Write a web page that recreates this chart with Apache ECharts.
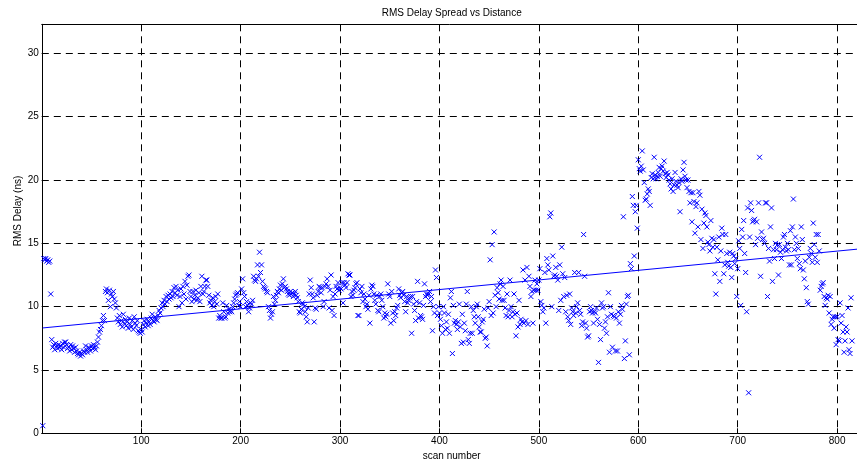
<!DOCTYPE html>
<html><head><meta charset="utf-8">
<script src="https://cdn.jsdelivr.net/npm/echarts@6/dist/echarts.min.js"></script>
<style>html,body{margin:0;padding:0;background:#fff}#c{width:857px;height:464px}</style>
</head><body><div id="c"></div>
<script>
// RMS delay (ns) per scan, scans 1..815
const rms001_100 = [
0.6,13.8,13.7,13.8,13.6,13.7,13.5,13.6,11.0,7.4,
6.8,7.0,6.6,7.1,6.9,6.7,7.0,6.8,6.9,6.6,
7.1,6.8,7.2,7.2,7.0,6.7,6.8,6.5,7.0,6.6,
6.9,6.7,6.4,6.8,6.5,6.3,6.2,6.4,6.1,6.3,
6.2,6.5,6.4,6.9,6.6,6.4,6.8,6.7,6.5,6.9,
6.7,7.0,6.8,6.6,6.9,7.2,7.6,8.0,8.2,8.5,
8.9,9.3,8.9,11.2,11.4,11.1,10.5,11.3,10.0,11.0,
10.8,11.2,10.6,10.3,9.9,9.1,8.8,9.3,8.6,8.9,
8.4,9.4,8.7,9.0,8.5,8.8,8.3,9.1,8.6,8.4,
8.9,8.2,9.2,8.7,8.5,8.9,8.1,8.0,7.9,8.2];
const rms101_200 = [
8.0,8.6,8.9,8.4,8.7,9.0,8.5,8.8,8.6,9.1,
9.4,8.9,8.8,9.2,9.0,8.9,9.3,9.7,9.5,9.9,
10.3,10.0,10.5,10.2,10.8,10.4,10.9,10.6,11.0,10.7,
11.2,10.8,11.5,11.1,11.6,10.9,11.3,10.0,10.8,11.4,
10.3,11.6,11.0,12.0,10.6,11.7,12.4,12.5,11.2,10.8,
10.4,11.2,10.6,10.9,11.3,10.5,10.7,11.1,10.4,11.6,
12.4,11.0,11.2,11.6,12.1,12.1,11.6,10.9,10.3,10.5,
10.1,10.7,10.0,10.4,10.8,10.2,11.0,9.1,9.3,9.1,
9.1,10.3,9.6,9.1,9.2,10.1,9.5,9.8,9.6,9.7,
9.6,10.0,10.3,10.6,10.9,11.0,11.1,10.1,10.4,10.0];
const rms201_300 = [
11.4,12.2,11.1,10.8,10.0,10.4,10.1,9.6,9.9,10.3,
10.2,10.5,12.4,12.1,12.0,12.2,13.3,12.4,14.3,12.7,
13.3,12.0,11.6,11.5,11.4,11.2,11.1,10.0,9.7,9.1,
9.4,9.6,10.8,10.2,10.5,10.9,11.2,11.1,11.4,11.7,
11.3,11.8,12.2,11.5,11.6,11.4,11.2,11.0,10.9,11.2,
11.0,11.1,10.8,11.0,11.2,10.9,10.7,10.4,9.6,9.5,
9.8,10.3,10.2,10.0,9.6,9.2,8.8,9.9,11.0,12.1,
11.5,11.0,10.7,8.8,9.9,9.8,10.9,11.2,11.6,11.5,
11.1,11.5,10.0,10.4,11.6,11.8,12.2,11.6,9.9,11.3,
12.5,9.7,10.8,9.3,11.0,11.6,11.4,11.9,11.3,11.5];
const rms301_400 = [
11.4,11.9,10.3,11.9,11.7,11.5,11.9,12.6,12.5,12.5,
10.8,11.2,10.9,11.3,11.5,11.8,11.9,9.3,9.3,11.4,
11.1,11.6,10.4,11.0,10.6,10.0,10.2,9.8,10.9,8.7,
11.4,11.7,11.6,11.0,10.5,10.2,10.9,9.7,9.6,10.8,
11.0,10.5,10.0,9.1,9.5,9.2,9.4,11.8,11.0,10.8,
8.7,11.2,9.5,8.9,9.6,9.3,9.9,10.1,11.4,10.9,
10.7,11.1,11.2,10.9,10.4,9.6,10.8,10.3,10.5,10.7,
10.8,7.9,10.8,10.2,9.7,8.9,10.4,12.0,9.1,10.3,
9.3,9.2,9.0,10.1,11.8,10.8,11.0,10.9,11.0,11.2,
10.4,10.8,8.1,10.0,9.5,12.9,12.3,9.3,10.0,9.5];
const rms401_500 = [
9.0,8.5,7.9,10.0,9.5,8.2,8.8,8.3,9.4,7.9,
10.7,11.2,6.3,10.1,8.7,8.9,8.6,8.2,8.8,10.2,
8.4,7.1,9.4,7.2,8.7,8.1,10.2,11.2,7.4,7.1,
7.9,10.0,7.9,9.7,9.2,8.7,10.0,10.2,9.2,8.4,
8.0,8.0,8.8,9.0,9.8,7.5,7.6,6.9,9.9,10.4,
13.7,9.3,14.9,9.5,15.9,10.9,10.0,11.5,11.1,10.6,
11.8,12.1,10.5,11.6,10.5,9.9,9.3,11.0,9.2,9.7,
12.1,10.0,9.2,9.6,11.0,9.4,7.7,9.5,8.4,10.5,
8.6,9.0,8.8,12.9,8.7,12.1,8.9,13.1,8.6,12.4,
11.6,10.8,11.2,8.7,11.3,12.1,11.3,11.8,11.3,12.1];
const rms501_600 = [
13.0,10.4,10.1,9.6,9.9,12.7,8.7,13.8,13.3,12.9,
17.1,17.4,10.0,14.0,12.4,12.5,13.1,12.4,12.1,9.7,
13.3,10.5,14.7,12.6,10.8,12.3,9.6,10.9,9.2,8.9,
11.0,8.6,9.9,9.6,9.3,12.7,9.5,10.0,10.3,12.7,
9.7,9.4,8.5,8.8,15.7,12.4,8.7,8.3,7.6,7.7,
9.6,10.0,9.7,9.5,8.7,9.6,9.5,9.9,9.0,5.6,
8.6,7.4,10.3,9.9,10.0,8.3,8.8,7.9,9.2,11.1,
6.4,10.0,9.4,6.8,9.3,9.2,6.5,9.1,6.5,9.6,
8.7,9.4,10.1,9.8,17.1,5.9,7.3,10.2,10.8,10.9,
6.2,13.4,13.0,18.7,18.0,14.0,17.5,18.0,16.2,21.6];
const rms601_700 = [
20.9,20.7,21.1,22.3,20.8,19.8,18.4,18.5,18.9,19.3,
19.1,18.0,20.2,20.5,20.1,21.8,20.4,20.1,20.3,20.6,
21.0,20.3,20.9,21.1,20.7,21.5,20.5,20.2,20.6,20.4,
20.0,19.7,19.3,20.1,19.1,19.6,20.6,19.9,19.6,19.4,
19.8,17.5,20.1,19.9,20.8,21.4,20.3,20.0,19.4,20.0,
19.1,18.2,19.0,16.7,19.0,18.3,15.8,17.9,18.2,16.3,
19.1,18.8,15.3,17.7,14.6,16.6,17.4,17.2,16.3,15.1,
14.9,14.4,16.8,15.4,14.7,15.3,12.6,11.0,14.7,13.7,
15.5,12.0,14.4,16.2,15.7,12.6,13.3,15.7,14.2,13.5,
13.2,14.3,13.1,12.3,14.2,14.0,13.4,13.8,10.8,13.0];
const rms701_815 = [
15.2,14.6,10.1,16.1,15.5,16.8,14.2,12.7,9.6,17.8,
3.2,15.5,18.2,17.6,16.7,16.8,16.9,14.9,16.7,15.4,
18.2,21.8,12.4,15.9,15.3,15.4,15.0,18.2,18.2,10.8,
14.6,13.6,16.3,17.8,12.0,14.5,13.8,15.0,14.5,14.9,
12.5,14.9,14.3,13.8,14.5,15.5,15.7,14.7,14.4,15.0,
14.5,13.3,16.0,13.3,16.3,18.5,14.5,15.5,15.0,13.8,
14.6,13.4,13.0,16.3,15.3,12.9,12.2,13.6,11.5,10.4,
10.2,13.9,14.6,14.2,13.5,16.6,14.9,13.9,15.7,13.5,
15.7,14.4,11.3,11.6,11.8,11.9,10.8,10.1,10.7,10.6,
10.9,9.5,10.8,8.6,9.0,9.2,8.3,9.2,7.0,9.2,
7.4,7.3,10.3,8.7,9.3,8.0,6.4,7.3,8.4,8.0,
9.9,6.6,6.3,10.7,7.3];
const firstScan = 1;
// least-squares fit line end points
const fitScans = [1, 820];
const fitDelay = [8.32, 14.54];
const xMin = 0, xMax = 820, xStep = 100;
const yMin = 0, yMax = 32.3, yStep = 5;

const rmsDelay = [].concat(rms001_100, rms101_200, rms201_300, rms301_400,
  rms401_500, rms501_600, rms601_700, rms701_815);
const scatterData = rmsDelay.map((v, i) => [firstScan + i, v]);
const fitData = fitScans.map((s, i) => [s, fitDelay[i]]);

const FONT = "'Liberation Sans', Arial, sans-serif";
const blue = '#0000ff';
const dash = {color: '#000', width: 1, type: [7, 5]};
const axisLineStyle = {show: true, lineStyle: {color: '#000', width: 1}};

const chart = echarts.init(document.getElementById('c'), null, {renderer: 'canvas'});
chart.setOption({
  animation: false,
  backgroundColor: '#fff',
  grid: {left: 41.8, right: -3.7, top: 24.3, bottom: 30.7, containLabel: false},
  xAxis: [{
    type: 'value', min: xMin, max: xMax, interval: xStep, position: 'bottom',
    axisLine: axisLineStyle,
    axisTick: {show: true, inside: true, length: 5, lineStyle: {color: '#000'}},
    axisLabel: {showMinLabel: false, showMaxLabel: false, color: '#000', fontSize: 10, fontFamily: FONT, margin: 3},
    splitLine: {show: true, lineStyle: dash}
  }, {
    type: 'value', min: xMin, max: xMax, interval: xStep, position: 'top',
    axisLine: axisLineStyle,
    axisTick: {show: true, inside: true, length: 5, lineStyle: {color: '#000'}},
    axisLabel: {show: false}, splitLine: {show: false}
  }],
  yAxis: [{
    type: 'value', min: yMin, max: yMax, interval: yStep,
    axisLine: axisLineStyle,
    axisTick: {show: true, inside: true, length: 5, lineStyle: {color: '#000'}},
    axisLabel: {showMaxLabel: false, color: '#000', fontSize: 10, fontFamily: FONT, margin: 3},
    splitLine: {show: true, lineStyle: dash}
  }],
  graphic: [
    {type: 'text', x: 451.7, y: 13, style: {text: 'RMS Delay Spread vs Distance', font: '10px ' + FONT, fill: '#000', align: 'center', verticalAlign: 'middle'}},
    {type: 'text', x: 451.7, y: 456, style: {text: 'scan number', font: '10px ' + FONT, fill: '#000', align: 'center', verticalAlign: 'middle'}},
    {type: 'text', x: 18, y: 211, rotation: Math.PI / 2, style: {text: 'RMS Delay (ns)', font: '10px ' + FONT, fill: '#000', align: 'center', verticalAlign: 'middle'}}
  ],
  series: [{
    type: 'scatter', xAxisIndex: 0, yAxisIndex: 0, data: scatterData,
    symbol: 'path://M0,0L10,10M0,10L10,0', symbolSize: 5,
    itemStyle: {color: 'rgba(0,0,0,0)', borderColor: blue, borderWidth: 1, opacity: 1},
    emphasis: {disabled: true}, silent: true, z: 3
  }, {
    type: 'line', xAxisIndex: 0, yAxisIndex: 0, data: fitData,
    showSymbol: false, symbol: 'none', lineStyle: {color: blue, width: 1}, silent: true, z: 4
  }]
});
</script></body></html>
